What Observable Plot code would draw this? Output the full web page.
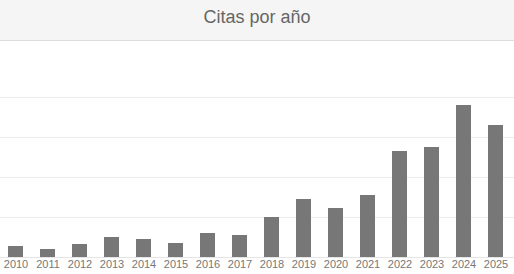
<!DOCTYPE html>
<html>
<head>
<meta charset="utf-8">
<script src="https://cdn.jsdelivr.net/npm/d3@7"></script>
<script src="https://cdn.jsdelivr.net/npm/@observablehq/plot@0.6"></script>
<style>
  html, body { margin: 0; padding: 0; background: #fff; }
  #header {
    box-sizing: border-box;
    width: 514px;
    height: 41px;
    padding-top: 7px;
    background: #f5f5f5;
    border-bottom: 1px solid #dcdcdc;
    text-align: center;
    font-family: "Liberation Sans", Arial, sans-serif;
    font-size: 18px;
    line-height: 20px;
    color: #666;
  }
  #chart svg { display: block; }
</style>
</head>
<body>
<div id="header">Citas por año</div>
<div id="chart"></div>
<script>
const years = ["2010","2011","2012","2013","2014","2015","2016","2017","2018","2019","2020","2021","2022","2023","2024","2025"];
const citations = [5.5, 4, 6.5, 10, 9, 7, 12, 11, 20, 29, 24.5, 31, 53, 55, 76, 66];
const gridValues = [20, 40, 60, 80];

const data = years.map((y, i) => ({year: y, value: citations[i]}));

const chart = Plot.plot({
  width: 514,
  height: 233,
  marginLeft: 0,
  marginRight: 2,
  marginTop: 56,
  marginBottom: 17,
  style: {fontFamily: "Liberation Sans, Arial, sans-serif", background: "#fff"},
  x: {type: "band", domain: years, paddingInner: 0.53, paddingOuter: 0.265, label: null},
  y: {domain: [0, 80], axis: null},
  marks: [
    Plot.ruleY(gridValues, {stroke: "#ebebeb", strokeWidth: 1, insetRight: -2}),
    Plot.ruleY([0], {stroke: "#e4e4e4", strokeWidth: 1, insetRight: -2}),
    Plot.barY(data, {x: "year", y: "value", fill: "#777777"}),
    Plot.axisX({tickSize: 0, tickPadding: 3, fontSize: 11, fill: "#777", label: null})
  ]
});
document.getElementById("chart").appendChild(chart);
</script>
</body>
</html>
